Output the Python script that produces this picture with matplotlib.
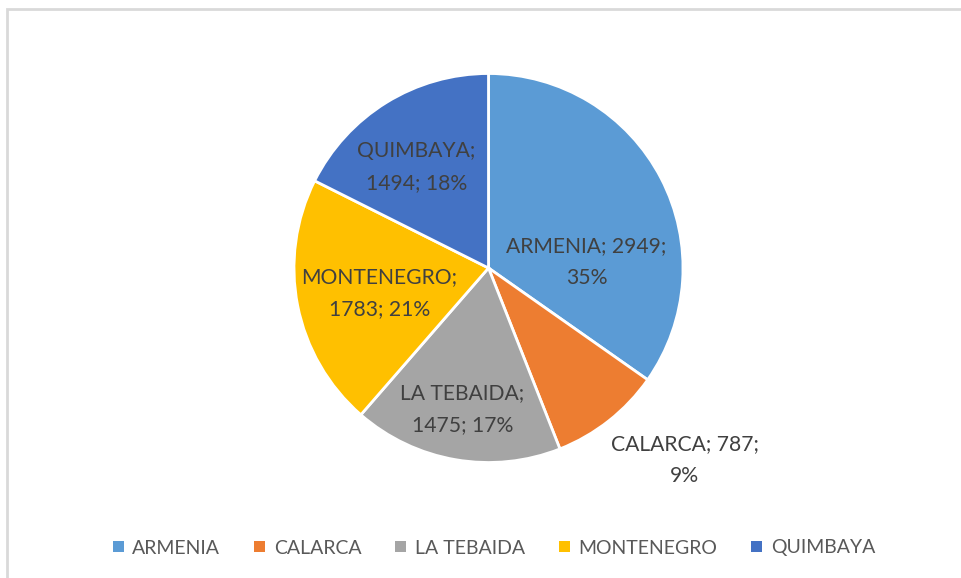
import matplotlib
matplotlib.use("Agg")
import matplotlib.pyplot as plt
from matplotlib.patches import Patch, Rectangle

categories = ["ARMENIA", "CALARCA", "LA TEBAIDA", "MONTENEGRO", "QUIMBAYA"]
values = [2949, 787, 1475, 1783, 1494]
colors = ["#5B9BD5", "#ED7D31", "#A5A5A5", "#FFC000", "#4472C4"]

plt.rcParams['font.family'] = ['Lato', 'DejaVu Sans']

W, H = 961, 578
fig = plt.figure(figsize=(W / 100, H / 100), dpi=100)
fig.patch.set_facecolor("white")

# chart border (only top/left visible in the cropped screenshot)
fig.patches.append(Rectangle((7 / W, 0 - 10 / H), (W + 10) / W, (H - 9 + 10) / H,
                             transform=fig.transFigure, fill=False,
                             edgecolor="#D9D9D9", linewidth=2))

cx, cy, r = 488.5, 268.0, 194.5
ax = fig.add_axes([(cx - r) / W, (H - cy - r) / H, 2 * r / W, 2 * r / H])
wedges, _ = ax.pie(values, colors=colors, startangle=90, counterclock=False,
                   radius=1.0, wedgeprops=dict(edgecolor="white", linewidth=2))
ax.set_xlim(-1, 1)
ax.set_ylim(-1, 1)
ax.axis("off")

total = sum(values)
texts = []
for cat, v in zip(categories, values):
    pct = round(100 * v / total)
    texts.append((cat, v, pct))

# label anchor positions (axes data units), Excel best-fit style
label_pos = [(0.504, 0.031), (1.008, -0.988), (-0.134, -0.725), (-0.560, -0.129), (-0.370, 0.519)]
label_txt = [
    f"{texts[0][0]}; {texts[0][1]};\n{texts[0][2]}%",
    f"{texts[1][0]}; {texts[1][1]};\n{texts[1][2]}%",
    f"{texts[2][0]};\n{texts[2][1]}; {texts[2][2]}%",
    f"{texts[3][0]};\n{texts[3][1]}; {texts[3][2]}%",
    f"{texts[4][0]};\n{texts[4][1]}; {texts[4][2]}%",
]
for (x, y), t in zip(label_pos, label_txt):
    ax.text(x, y, t, ha="center", va="center", fontsize=15.2, color="#404040",
            linespacing=1.75, clip_on=False)

handles = [Patch(facecolor=c, edgecolor="none") for c in colors]
leg = fig.legend(handles, categories, loc="center", ncol=5,
                 bbox_to_anchor=(494 / W, 1 - 548 / H), frameon=False,
                 fontsize=14, handlelength=0.55, handleheight=0.55,
                 handletextpad=0.45, columnspacing=1.75, labelcolor="#595959")

fig.savefig("out.png", dpi=100, facecolor="white")
